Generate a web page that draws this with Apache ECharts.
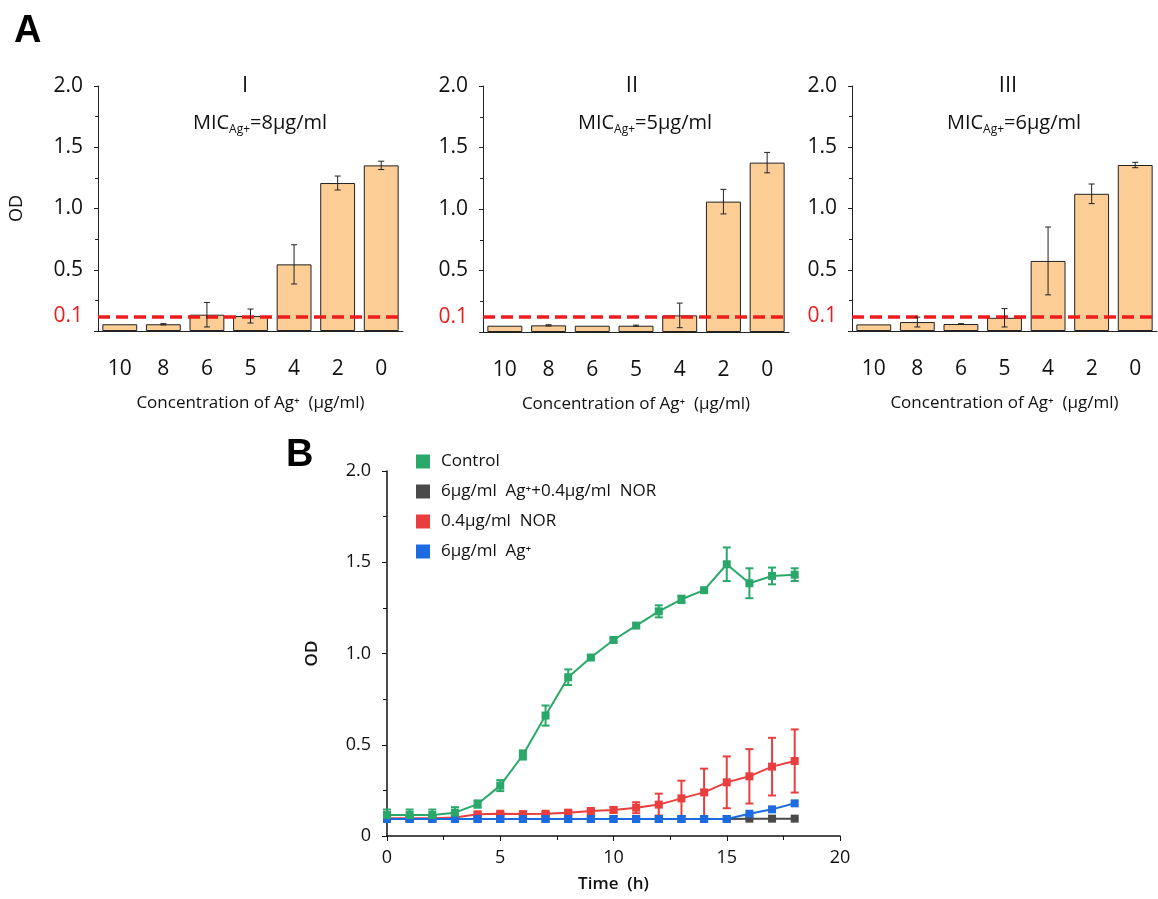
<!DOCTYPE html>
<html>
<head>
<meta charset="utf-8">
<script src="https://cdn.jsdelivr.net/npm/echarts@6/dist/echarts.min.js"></script>
<style>
  html, body { margin: 0; padding: 0; background: #fff; }
  #chart { width: 1158px; height: 899px; }
</style>
</head>
<body>
<div id="chart"></div>
<script>
// panel A: OD vs Ag+ concentration
const concLabels = ['10', '8', '6', '5', '4', '2', '0'];
const odI = [0.055, 0.055, 0.133, 0.122, 0.544, 1.208, 1.352];
const errI = [0, 0.005, 0.1, 0.057, 0.16, 0.057, 0.034];
const odII = [0.051, 0.054, 0.051, 0.051, 0.135, 1.06, 1.377];
const errII = [0, 0.005, 0, 0.005, 0.1, 0.1, 0.083];
const odIII = [0.054, 0.073, 0.057, 0.108, 0.572, 1.12, 1.355];
const errIII = [0, 0.04, 0.003, 0.075, 0.277, 0.08, 0.022];
const micTexts = ['=8μg/ml', '=5μg/ml', '=6μg/ml'];
const panelNames = ['I', 'II', 'III'];
const cutoff = 0.115; // dashed line, labelled 0.1

// panel B: growth curves
const hours = [0, 1, 2, 3, 4, 5, 6, 7, 8, 9, 10, 11, 12, 13, 14, 15, 16, 17, 18];
const control = [0.115, 0.115, 0.115, 0.128, 0.175, 0.276, 0.444, 0.66, 0.87, 0.978, 1.074, 1.153, 1.231, 1.297, 1.347, 1.489, 1.385, 1.425, 1.432];
const controlErr = [0.03, 0.03, 0.03, 0.03, 0.02, 0.03, 0.025, 0.055, 0.043, 0.01, 0.01, 0.01, 0.033, 0.02, 0.01, 0.092, 0.082, 0.046, 0.035];
const combo = [0.093, 0.093, 0.093, 0.093, 0.093, 0.093, 0.093, 0.093, 0.093, 0.093, 0.093, 0.093, 0.093, 0.093, 0.093, 0.093, 0.095, 0.095, 0.095];
const nor = [0.097, 0.097, 0.097, 0.102, 0.119, 0.122, 0.12, 0.122, 0.128, 0.137, 0.143, 0.155, 0.172, 0.206, 0.239, 0.294, 0.327, 0.38, 0.411];
const norErr = [0, 0, 0, 0, 0.01, 0.01, 0.01, 0.01, 0.01, 0.01, 0.015, 0.03, 0.06, 0.097, 0.13, 0.142, 0.149, 0.158, 0.173];
const silver = [0.093, 0.093, 0.093, 0.093, 0.093, 0.093, 0.093, 0.093, 0.093, 0.093, 0.093, 0.093, 0.093, 0.093, 0.093, 0.093, 0.122, 0.146, 0.179];

const FONT = 'Open Sans';
const AXIS = '#222';

function errorData(xs, ys, es) {
  return ys.map((y, i) => [xs[i], y - es[i], y + es[i]]);
}

function errorSeries(name, xi, yi, data, color, cap, width) {
  return {
    name: name,
    type: 'custom',
    xAxisIndex: xi,
    yAxisIndex: yi,
    z: 5,
    silent: true,
    encode: { x: 0, y: [1, 2] },
    data: data,
    renderItem: function (params, api) {
      const x = api.value(0);
      const lo = api.value(1), hi = api.value(2);
      if (hi - lo < 0.004) return;
      const top = api.coord([x, hi]);
      const bot = api.coord([x, lo]);
      const st = { stroke: color, lineWidth: width };
      return {
        type: 'group',
        children: [
          { type: 'line', shape: { x1: top[0], y1: top[1], x2: bot[0], y2: bot[1] }, style: st },
          { type: 'line', shape: { x1: top[0] - cap, y1: top[1], x2: top[0] + cap, y2: top[1] }, style: st },
          { type: 'line', shape: { x1: bot[0] - cap, y1: bot[1], x2: bot[0] + cap, y2: bot[1] }, style: st }
        ]
      };
    }
  };
}

const gridsA = [
  { left: 98, top: 86, width: 305, height: 245 },
  { left: 483, top: 86, width: 306, height: 246 },
  { left: 852, top: 86, width: 305, height: 245 }
];
const gridB = { left: 387, top: 471, width: 453, height: 365 };

const xAxes = [];
const yAxes = [];
const series = [];
const titles = [];
const odSets = [odI, odII, odIII];
const errSets = [errI, errII, errIII];
const titleX = [240, 627, 1003];
const micX = [255, 640, 1009];

gridsA.forEach((g, k) => {
  xAxes.push({
    type: 'category', gridIndex: k, data: concLabels,
    axisLine: { lineStyle: { color: AXIS } },
    axisTick: { alignWithLabel: true, length: 5, lineStyle: { color: AXIS } },
    axisLabel: { color: '#111', fontSize: 21, fontFamily: FONT, margin: 28 },
    name: 'Concentration of Ag⁺  (μg/ml)', nameLocation: 'middle', nameGap: 64,
    nameTextStyle: { color: '#111', fontSize: 17, fontFamily: FONT }
  });
  yAxes.push({
    type: 'value', gridIndex: k, min: 0, max: 2, interval: 0.5,
    axisLine: { show: true, lineStyle: { color: AXIS } },
    axisTick: { show: true, length: 4, lineStyle: { color: AXIS } },
    minorTick: { show: true, splitNumber: 2, length: 3, lineStyle: { color: AXIS } },
    splitLine: { show: false },
    axisLabel: {
      color: '#111', fontSize: 21, fontFamily: FONT, margin: 15,
      formatter: v => v === 0 ? '' : v.toFixed(1)
    },
    name: k === 0 ? 'OD' : '', nameLocation: 'middle', nameGap: 72,
    nameTextStyle: { color: '#111', fontSize: 18, fontFamily: FONT }
  });
  series.push({
    type: 'bar', xAxisIndex: k, yAxisIndex: k, data: odSets[k],
    barCategoryGap: '20%',
    itemStyle: { color: '#fdcd96', borderColor: '#222', borderWidth: 1 },
    markLine: {
      silent: true, symbol: 'none',
      lineStyle: { color: '#ee1c1c', type: [12, 6], width: 3.5 },
      label: { position: 'start', formatter: '0.1', color: '#ee1c1c', fontSize: 21, fontFamily: FONT, distance: 15 },
      data: [{ yAxis: cutoff }]
    }
  });
  series.push(errorSeries('errA' + k, k, k, errorData([0, 1, 2, 3, 4, 5, 6], odSets[k], errSets[k]), '#222', 3, 1));
  titles.push({
    text: panelNames[k], left: titleX[k], top: 70, textAlign: 'center',
    textStyle: { fontSize: 22, fontWeight: 'normal', color: '#111', fontFamily: FONT }
  });
  titles.push({
    text: '{a|MIC}{s|Ag+}{a|' + micTexts[k] + '}', left: micX[k], top: 106, textAlign: 'center',
    textStyle: {
      fontWeight: 'normal',
      rich: {
        a: { fontSize: 20, fontWeight: 'normal', color: '#111', fontFamily: FONT },
        s: { fontSize: 12, fontWeight: 'normal', color: '#111', fontFamily: FONT, padding: [13, 0, 0, 0] }
      }
    }
  });
});

titles.push({ text: 'A', left: 9, top: 8, textStyle: { fontSize: 38, fontWeight: 'bold', color: '#000', fontFamily: 'Liberation Sans' } });
titles.push({ text: 'B', left: 281, top: 432, textStyle: { fontSize: 38, fontWeight: 'bold', color: '#000', fontFamily: 'Liberation Sans' } });

// panel B axes
xAxes.push({
  type: 'value', gridIndex: 3, min: 0, max: 20, interval: 5,
  axisLine: { lineStyle: { color: '#111', width: 1.5 } },
  axisTick: { length: 5, lineStyle: { color: '#111' } },
  minorTick: { show: true, splitNumber: 2, length: 4, lineStyle: { color: '#111' } },
  splitLine: { show: false },
  axisLabel: { color: '#111', fontSize: 18, fontFamily: FONT, margin: 13 },
  name: 'Time  (h)', nameLocation: 'middle', nameGap: 40,
  nameTextStyle: { color: '#111', fontSize: 17, fontWeight: 600, fontFamily: FONT }
});
yAxes.push({
  type: 'value', gridIndex: 3, min: 0, max: 2, interval: 0.5,
  axisLine: { show: true, lineStyle: { color: '#111', width: 1.5 } },
  axisTick: { show: true, length: 5, lineStyle: { color: '#111' } },
  minorTick: { show: true, splitNumber: 2, length: 4, lineStyle: { color: '#111' } },
  splitLine: { show: false },
  axisLabel: { color: '#111', fontSize: 18, fontFamily: FONT, margin: 16, formatter: v => v === 0 ? '0' : v.toFixed(1) },
  name: 'OD', nameLocation: 'middle', nameGap: 66,
  nameTextStyle: { color: '#111', fontSize: 17, fontWeight: 600, fontFamily: FONT }
});

const lineDefs = [
  { name: '6μg/ml  Ag⁺+0.4μg/ml  NOR', ys: combo, err: null, color: '#4a4a4a' },
  { name: '0.4μg/ml  NOR', ys: nor, err: norErr, color: '#ea3e3e' },
  { name: '6μg/ml  Ag⁺', ys: silver, err: null, color: '#1c6be0' },
  { name: 'Control', ys: control, err: controlErr, color: '#2aa86a' }
];
lineDefs.forEach((d, i) => {
  series.push({
    name: d.name, type: 'line', xAxisIndex: 3, yAxisIndex: 3,
    data: hours.map((h, j) => [h, d.ys[j]]),
    symbol: 'rect', symbolSize: 8, z: 10 + i,
    itemStyle: { color: d.color },
    lineStyle: { color: d.color, width: 2 }
  });
  if (d.err) {
    series.push(errorSeries('errB' + i, 3, 3, errorData(hours, d.ys, d.err), d.color, 4, 2));
  }
});

const chart = echarts.init(document.getElementById('chart'));
chart.setOption({
  animation: false,
  backgroundColor: '#fff',
  title: titles,
  grid: gridsA.concat([gridB]),
  xAxis: xAxes,
  yAxis: yAxes,
  legend: {
    data: ['Control', '6μg/ml  Ag⁺+0.4μg/ml  NOR', '0.4μg/ml  NOR', '6μg/ml  Ag⁺'],
    orient: 'vertical', left: 411, top: 448,
    icon: 'rect', itemWidth: 14, itemHeight: 14, itemGap: 13,
    textStyle: { fontSize: 17, color: '#111', fontFamily: FONT, padding: [0, 0, 0, 6] }
  },
  series: series
});
</script>
</body>
</html>
